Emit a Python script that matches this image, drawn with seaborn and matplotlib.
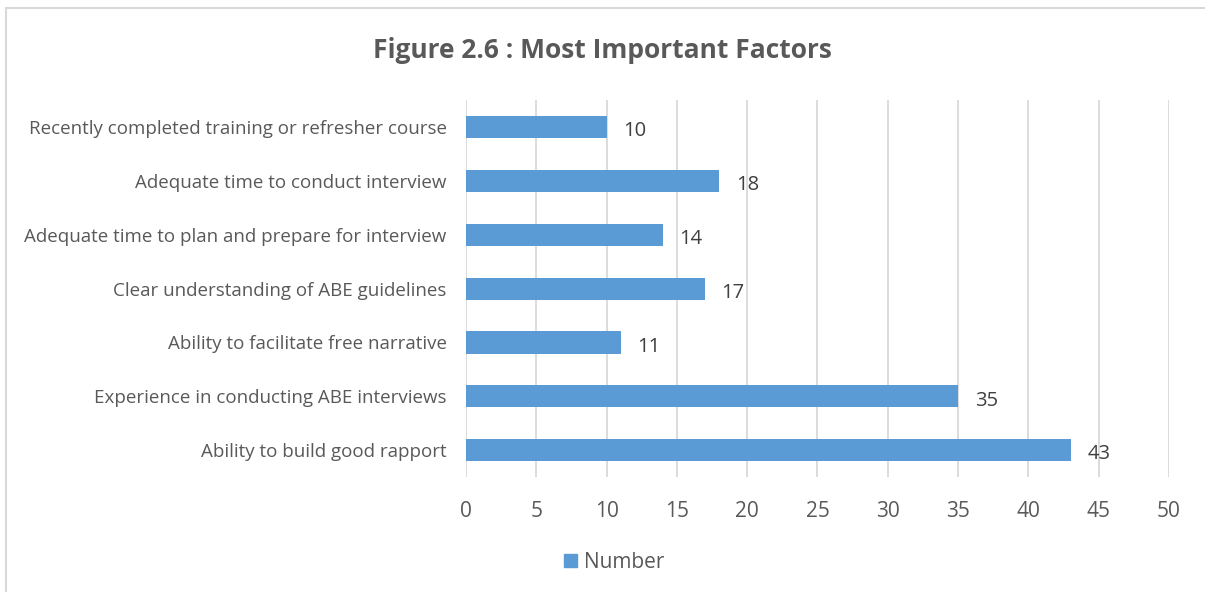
import pandas as pd
import matplotlib.pyplot as plt
import seaborn as sns
from matplotlib.patches import Rectangle

# data (top to bottom as shown)
factors = [
    'Recently completed training or refresher course',
    'Adequate time to conduct interview',
    'Adequate time to plan and prepare for interview',
    'Clear understanding of ABE guidelines',
    'Ability to facilitate free narrative',
    'Experience in conducting ABE interviews',
    'Ability to build good rapport',
]
numbers = [10, 18, 14, 17, 11, 35, 43]
x_ticks = [0, 5, 10, 15, 20, 25, 30, 35, 40, 45, 50]

df = pd.DataFrame({'Factor': factors, 'Number': numbers})

sns.set_theme(style="white")
plt.rcParams['font.family'] = ['Open Sans', 'DejaVu Sans']

text_col = '#595959'
bar_col = '#5B9BD5'

fig = plt.figure(figsize=(12.05, 5.92), dpi=100)
ax = fig.add_axes([0.3867, 0.194, 0.5834, 0.637])

sns.barplot(data=df, y='Factor', x='Number', color=bar_col, width=0.41,
            saturation=1, linewidth=0, orient='h', ax=ax, zorder=3)

ax.set_xlim(0, 50)
ax.set_xticks(x_ticks)
ax.grid(axis='x', color='#D9D9D9', linewidth=1.3, zorder=0)
ax.set_axisbelow(True)
for s in ax.spines.values():
    s.set_visible(False)
ax.tick_params(axis='both', length=0, colors=text_col)
ax.tick_params(axis='x', pad=17, labelsize=15)
ax.tick_params(axis='y', pad=14, labelsize=13.5)
ax.set_xlabel('')
ax.set_ylabel('')

labels = ax.bar_label(ax.containers[0], padding=12, color='#404040', fontsize=14.5)
for t in labels:
    t.xyann = (t.xyann[0], -3)

fig.text(0.5, 0.915, 'Figure 2.6 : Most Important Factors', ha='center', va='center',
         fontsize=19, fontweight='bold', color=text_col)

# legend
handle = Rectangle((0, 0), 1, 1, color=bar_col)
fig.legend([handle], ['Number'], loc='center', bbox_to_anchor=(0.51, 0.05),
           frameon=False, handlelength=0.6, handleheight=0.6, handletextpad=0.35,
           fontsize=15, labelcolor=text_col)

# chart border
fig.add_artist(Rectangle((0.005, -0.01), 0.999, 0.997, transform=fig.transFigure,
                         fill=False, edgecolor='#D9D9D9', linewidth=1.5))

plt.savefig('out.png', dpi=100)
plt.close()
